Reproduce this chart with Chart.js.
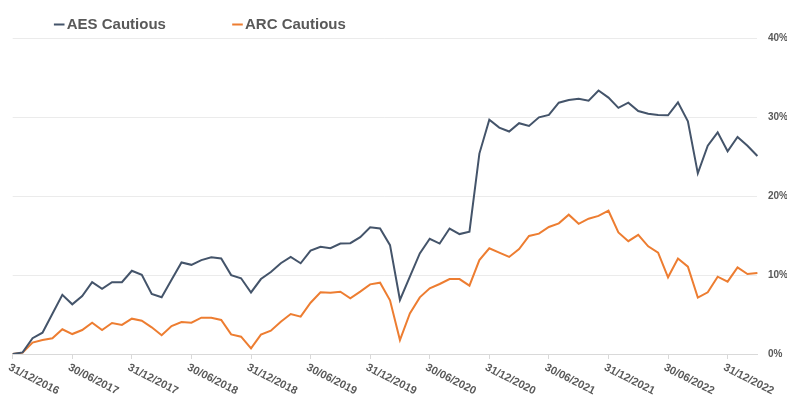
<!DOCTYPE html>
<html>
<head>
<meta charset="utf-8">
<script src="https://cdn.jsdelivr.net/npm/chart.js@4.4.0/dist/chart.umd.min.js"></script>
<style>
html,body{margin:0;padding:0;background:#ffffff;}
#wrap{width:787px;height:401px;}
</style>
</head>
<body>
<div id="wrap"><canvas id="c" width="787" height="401"></canvas></div>
<script>
const categories = [
  '31/12/2016',
  '31/01/2017','28/02/2017','31/03/2017','30/04/2017','31/05/2017','30/06/2017','31/07/2017','31/08/2017','30/09/2017','31/10/2017','30/11/2017','31/12/2017',
  '31/01/2018','28/02/2018','31/03/2018','30/04/2018','31/05/2018','30/06/2018','31/07/2018','31/08/2018','30/09/2018','31/10/2018','30/11/2018','31/12/2018',
  '31/01/2019','28/02/2019','31/03/2019','30/04/2019','31/05/2019','30/06/2019','31/07/2019','31/08/2019','30/09/2019','31/10/2019','30/11/2019','31/12/2019',
  '31/01/2020','29/02/2020','31/03/2020','30/04/2020','31/05/2020','30/06/2020','31/07/2020','31/08/2020','30/09/2020','31/10/2020','30/11/2020','31/12/2020',
  '31/01/2021','28/02/2021','31/03/2021','30/04/2021','31/05/2021','30/06/2021','31/07/2021','31/08/2021','30/09/2021','31/10/2021','30/11/2021','31/12/2021',
  '31/01/2022','28/02/2022','31/03/2022','30/04/2022','31/05/2022','30/06/2022','31/07/2022','31/08/2022','30/09/2022','31/10/2022','30/11/2022','31/12/2022',
  '31/01/2023','28/02/2023','31/03/2023'
];

const aesCautious = [
  0.0, 0.2, 2.0, 2.7, 5.1, 7.5, 6.3, 7.35, 9.1, 8.25, 9.1, 9.1,
  10.55, 10.05, 7.6, 7.2, 9.4, 11.6, 11.3, 11.9, 12.25, 12.1, 10.0, 9.6,
  7.8, 9.5, 10.4, 11.5, 12.3, 11.5, 13.1, 13.6, 13.4, 14.0, 14.05, 14.8,
  16.05, 15.9, 13.8, 6.85, 9.8, 12.75, 14.6, 14.0, 15.9, 15.2, 15.5, 25.4,
  29.7, 28.7, 28.2, 29.25, 28.9, 30.0, 30.3, 31.85, 32.2, 32.35, 32.1, 33.4,
  32.5, 31.2, 31.85, 30.8, 30.45, 30.3, 30.25, 31.9, 29.5, 22.9, 26.4, 28.1,
  25.7, 27.5, 26.4, 25.1
];

const arcCautious = [
  0.0, 0.17, 1.44, 1.77, 1.99, 3.13, 2.53, 3.04, 3.97, 3.04, 3.93, 3.68,
  4.48, 4.22, 3.38, 2.37, 3.55, 4.06, 3.97, 4.6, 4.6, 4.31, 2.49, 2.19,
  0.72, 2.45, 2.96, 4.1, 5.07, 4.73, 6.5, 7.82, 7.77, 7.9, 7.06, 7.9,
  8.83, 9.04, 6.8, 1.77, 5.15, 7.18, 8.32, 8.87, 9.5, 9.5, 8.66, 11.9,
  13.4, 12.84, 12.3, 13.3, 14.96, 15.25, 16.1, 16.56, 17.66, 16.5, 17.15, 17.5,
  18.16, 15.4, 14.3, 15.1, 13.65, 12.84, 9.72, 12.1, 11.07, 7.14, 7.82, 9.8,
  9.17, 10.98, 10.14, 10.27
];

const seriesNames = ['AES Cautious', 'ARC Cautious'];
const seriesColors = ['#44546A', '#ED7D31'];
const yMin = 0, yMax = 40, yStep = 10;
const xLabelEvery = 6;

const TEXT = '#595959';
const FONT = '"Liberation Sans", Arial, sans-serif';

const LEG_PAD = 71.6;
const legendTweak = {
  id: 'legendTweak',
  beforeInit(chart) {
    const lg = chart.legend;
    const orig = lg.fit;
    lg.fit = function () { orig.call(this); this.height = 38.4; };
  },
  afterLayout(chart) {
    const lg = chart.legend;
    lg.left = 59.2 - LEG_PAD;
    lg.top = 24.5 - 7.5 - LEG_PAD;
  }
};

const xLabels = {
  id: 'xLabels',
  afterDraw(chart) {
    const s = chart.scales.x;
    const ctx = chart.ctx;
    ctx.save();
    ctx.fillStyle = TEXT;
    ctx.font = 'bold 11px ' + FONT;
    ctx.textAlign = 'left';
    ctx.textBaseline = 'top';
    s.ticks.forEach((t, i) => {
      if (i % xLabelEvery !== 0) return;
      const x = s.getPixelForTick(i);
      ctx.save();
      ctx.translate(x - 1, s.top + 8);
      ctx.rotate(27 * Math.PI / 180);
      ctx.fillText(s.getLabelForValue(t.value), 0, 0);
      ctx.restore();
    });
    ctx.restore();
  }
};

new Chart(document.getElementById('c'), {
  type: 'line',
  data: {
    labels: categories,
    datasets: [
      { label: seriesNames[0], data: aesCautious, borderColor: seriesColors[0], backgroundColor: seriesColors[0], borderWidth: 2, pointRadius: 0, tension: 0 },
      { label: seriesNames[1], data: arcCautious, borderColor: seriesColors[1], backgroundColor: seriesColors[1], borderWidth: 2, pointRadius: 0, tension: 0 }
    ]
  },
  options: {
    responsive: false,
    animation: false,
    devicePixelRatio: 1,
    layout: { padding: { left: 12.7, top: 0, right: 0, bottom: 0 } },
    plugins: {
      legend: {
        align: 'start',
        labels: {
          usePointStyle: true,
          pointStyle: 'line',
          boxWidth: 0.01,
          boxHeight: 7.5,
          padding: LEG_PAD,
          color: TEXT,
          font: { family: FONT, size: 15, weight: 'bold' }
        }
      },
      tooltip: { enabled: false }
    },
    scales: {
      x: {
        grid: {
          drawOnChartArea: false,
          drawTicks: true,
          tickLength: 5,
          color: (c) => (c.index % xLabelEvery === 0 ? '#d9d9d9' : 'rgba(0,0,0,0)')
        },
        border: { color: '#d9d9d9', width: 1 },
        ticks: { display: false, autoSkip: false },
        afterFit: (s) => { s.height = 47; }
      },
      y: {
        position: 'right',
        min: yMin,
        max: yMax,
        ticks: {
          stepSize: yStep,
          padding: 10.5,
          color: TEXT,
          font: { family: FONT, size: 10, weight: 'bold' },
          callback: (v) => v + '%'
        },
        grid: { color: '#ebebeb', drawTicks: false },
        border: { display: false },
        afterFit: (s) => { s.width = 29.6; }
      }
    }
  },
  plugins: [legendTweak, xLabels]
});
</script>
</body>
</html>
